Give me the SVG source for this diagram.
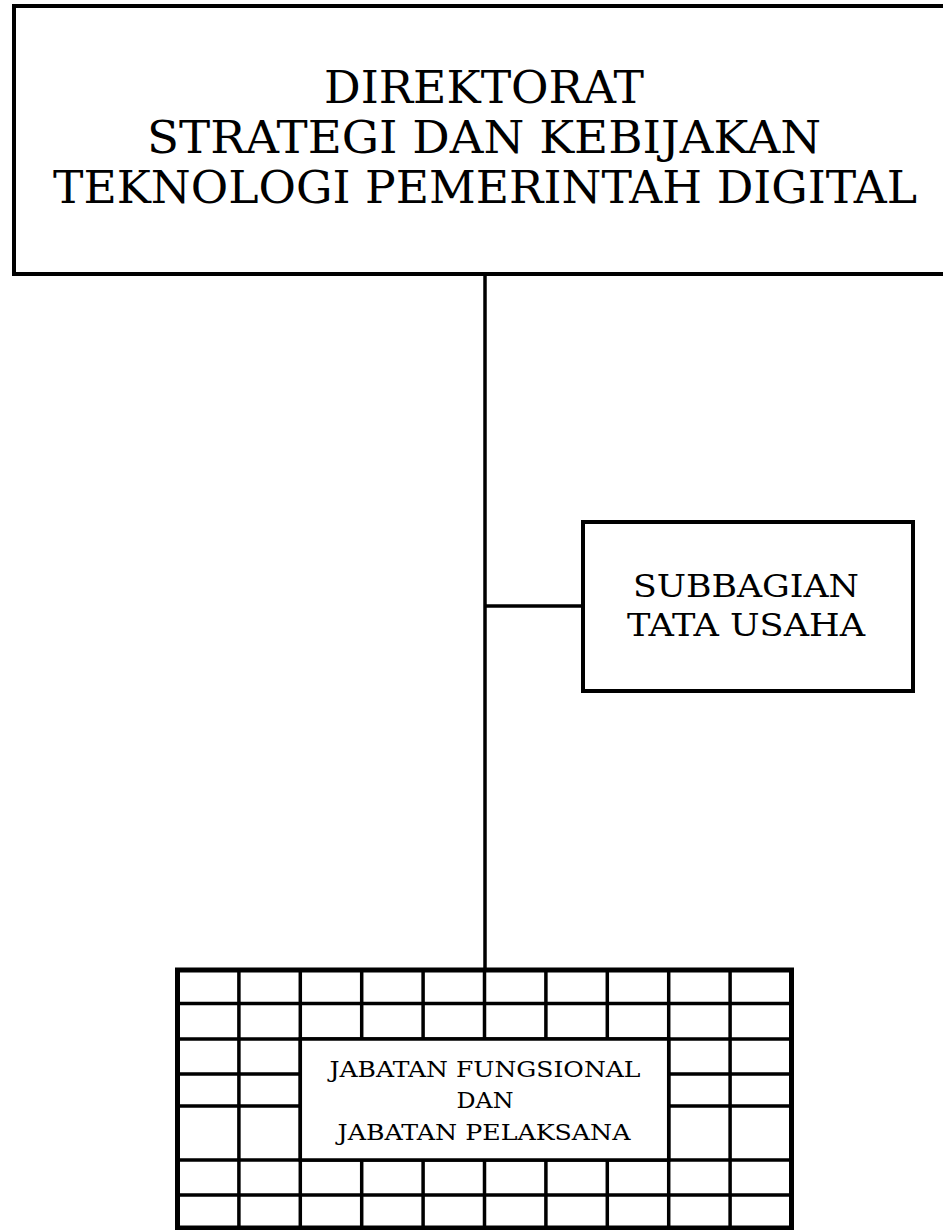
<svg xmlns="http://www.w3.org/2000/svg" width="943" height="1230" viewBox="0 0 943 1230">
<style>
.box{fill:#fff;stroke:#000;stroke-width:4}
.grid{stroke:#000;stroke-width:3.5;fill:none}
.t{font-family:"DejaVu Serif","Liberation Serif",serif;fill:#000;text-anchor:middle}
.conn{stroke:#000;stroke-width:3.5;fill:none}
</style>
<rect width="943" height="1230" fill="#fff"/>
<g id="connectors">
<line class="conn" x1="485" y1="276" x2="485" y2="968"/>
<line class="conn" x1="485" y1="606" x2="583" y2="606"/>
</g>
<g id="direktorat">
<rect class="box" x="14" y="6" width="950" height="268"/>
<text class="t" x="484" y="103" font-size="44" textLength="320" lengthAdjust="spacingAndGlyphs">DIREKTORAT</text>
<text class="t" x="484" y="153" font-size="44" textLength="674" lengthAdjust="spacingAndGlyphs">STRATEGI DAN KEBIJAKAN</text>
<text class="t" x="485" y="203" font-size="44" textLength="864" lengthAdjust="spacingAndGlyphs">TEKNOLOGI PEMERINTAH DIGITAL</text>
</g>
<g id="subbagian">
<rect class="box" x="583" y="522" width="330" height="169"/>
<text class="t" x="746" y="597" font-size="31" textLength="226" lengthAdjust="spacingAndGlyphs">SUBBAGIAN</text>
<text class="t" x="746" y="636" font-size="31" textLength="238" lengthAdjust="spacingAndGlyphs">TATA USAHA</text>
</g>
<g id="jabatan">
<rect x="177.5" y="970" width="614" height="258" fill="#fff"/>
<g class="grid">
<path d="M238.9 970V1228M300.3 970V1228M361.7 970V1228M423.1 970V1228M484.5 970V1228M545.9 970V1228M607.3 970V1228M668.7 970V1228M730.1 970V1228"/>
<path d="M177.5 1003.5H791.5M177.5 1039H791.5M177.5 1074H791.5M177.5 1106H791.5M177.5 1160H791.5M177.5 1195H791.5"/>
</g>
<rect x="300.3" y="1039" width="368.4" height="121" fill="#fff" stroke="#000" stroke-width="3.5"/>
<rect x="177.5" y="970" width="614" height="258" fill="none" stroke="#000" stroke-width="5"/>
<text class="t" x="485" y="1077" font-size="22" textLength="311" lengthAdjust="spacingAndGlyphs">JABATAN FUNGSIONAL</text>
<text class="t" x="485" y="1108" font-size="22" textLength="57" lengthAdjust="spacingAndGlyphs">DAN</text>
<text class="t" x="484" y="1140" font-size="22" textLength="293" lengthAdjust="spacingAndGlyphs">JABATAN PELAKSANA</text>
</g>
</svg>
